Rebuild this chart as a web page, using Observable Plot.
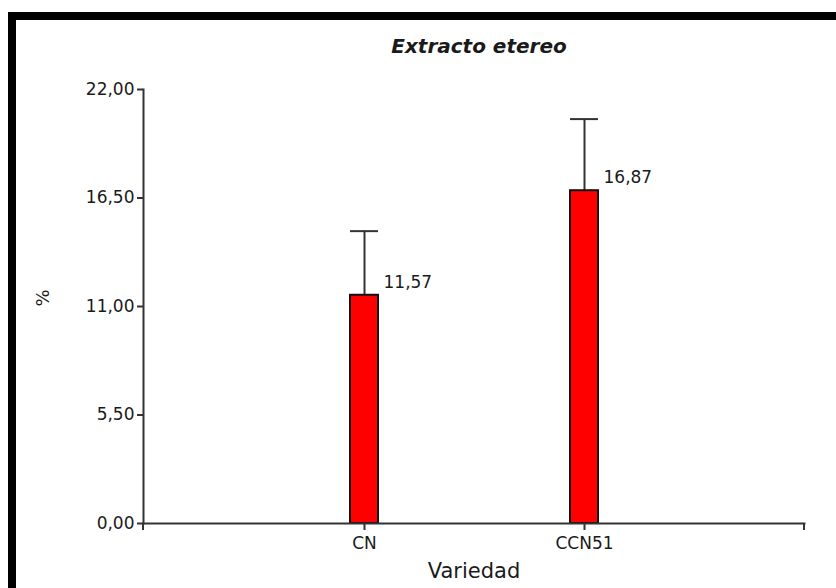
<!DOCTYPE html>
<html>
<head>
<meta charset="utf-8">
<script src="https://cdn.jsdelivr.net/npm/d3@7"></script>
<script src="https://cdn.jsdelivr.net/npm/@observablehq/plot@0.6"></script>
<style>
  html, body { margin: 0; padding: 0; background: #fff; }
  #chart { position: relative; width: 836px; height: 588px; overflow: hidden; }
  #chart svg { position: absolute; left: 0; top: 0; }
  /* heavy black frame along the top and left edges */
  #border { position: absolute; left: 8px; top: 12px; right: -20px; bottom: -20px;
            border-top: 8px solid #000; border-left: 8px solid #000; pointer-events: none; }
</style>
</head>
<body>
<div id="chart"><div id="border"></div></div>
<script>
// Extracto etereo (%) by cocoa variety, mean with upper error bar
const varieties = ["CN", "CCN51"];
const means = [11.57, 16.87];
const errors = [3.25, 3.63];
const yTicks = [0, 5.5, 11, 16.5, 22];
const title = "Extracto etereo";
const xLabel = "Variedad";
const yLabel = "%";

const rows = varieties.map((v, i) => ({variedad: v, media: means[i], error: errors[i]}));
const fmt = v => v.toFixed(2).replace(".", ",");

const W = 836, H = 588;
const mL = 143, mR = 32, mT = 89, mB = 65;
const ink = "#1a1a1a", line = "#333";
const font = "DejaVu Sans, Verdana, sans-serif";

const chart = Plot.plot({
  width: W,
  height: H,
  marginLeft: mL,
  marginRight: mR,
  marginTop: mT,
  marginBottom: mB,
  style: {fontFamily: font, fontSize: "17px", color: ink, background: "transparent", overflow: "visible"},
  x: {type: "band", domain: varieties, paddingInner: 0.873, paddingOuter: 0.9365, label: null},
  y: {domain: [0, 22], label: null},
  marks: [
    // error bars above each bar, capped with a tick as wide as the bar
    Plot.ruleX(rows, {x: "variedad", y1: "media", y2: d => d.media + d.error, stroke: line, strokeWidth: 2}),
    Plot.tickY(rows, {x: "variedad", y: d => d.media + d.error, stroke: line, strokeWidth: 2}),
    Plot.barY(rows, {x: "variedad", y: "media", fill: "#ff0000", stroke: "#111", strokeWidth: 2}),
    Plot.text(rows, {x: "variedad", y: "media", text: d => fmt(d.media), textAnchor: "start",
                     dx: 19, dy: -13, fill: ink, fontSize: 17}),
    // axis lines
    Plot.frame({anchor: "left", stroke: line, strokeWidth: 2}),
    Plot.frame({anchor: "bottom", stroke: line, strokeWidth: 2}),
    Plot.axisY({ticks: yTicks, tickFormat: fmt, tickSize: 6, tickPadding: 3, label: null,
                stroke: line, strokeWidth: 2, fill: ink, fontSize: 17}),
    Plot.axisX({tickSize: 7, tickPadding: 6, label: null, stroke: line, strokeWidth: 2,
                fill: ink, fontSize: 17}),
    // titles
    Plot.text([title], {frameAnchor: "top", lineAnchor: "middle", dx: 5, dy: -43,
                        fontWeight: "bold", fontStyle: "italic", fontSize: 20, fill: ink}),
    Plot.text([xLabel], {frameAnchor: "bottom", lineAnchor: "middle", dy: 48, fontSize: 21, fill: ink}),
    Plot.text([yLabel], {frameAnchor: "left", dx: -100, rotate: -90, fontSize: 18, fill: ink})
  ]
});

// end ticks that close the x axis at both ends
const svg = d3.select(chart);
const yBase = H - mB;
[mL, W - mR].forEach(xp => {
  svg.append("line")
    .attr("x1", xp).attr("x2", xp)
    .attr("y1", yBase).attr("y2", yBase + 7)
    .attr("stroke", line).attr("stroke-width", 2);
});

document.getElementById("chart").prepend(chart);
</script>
</body>
</html>
